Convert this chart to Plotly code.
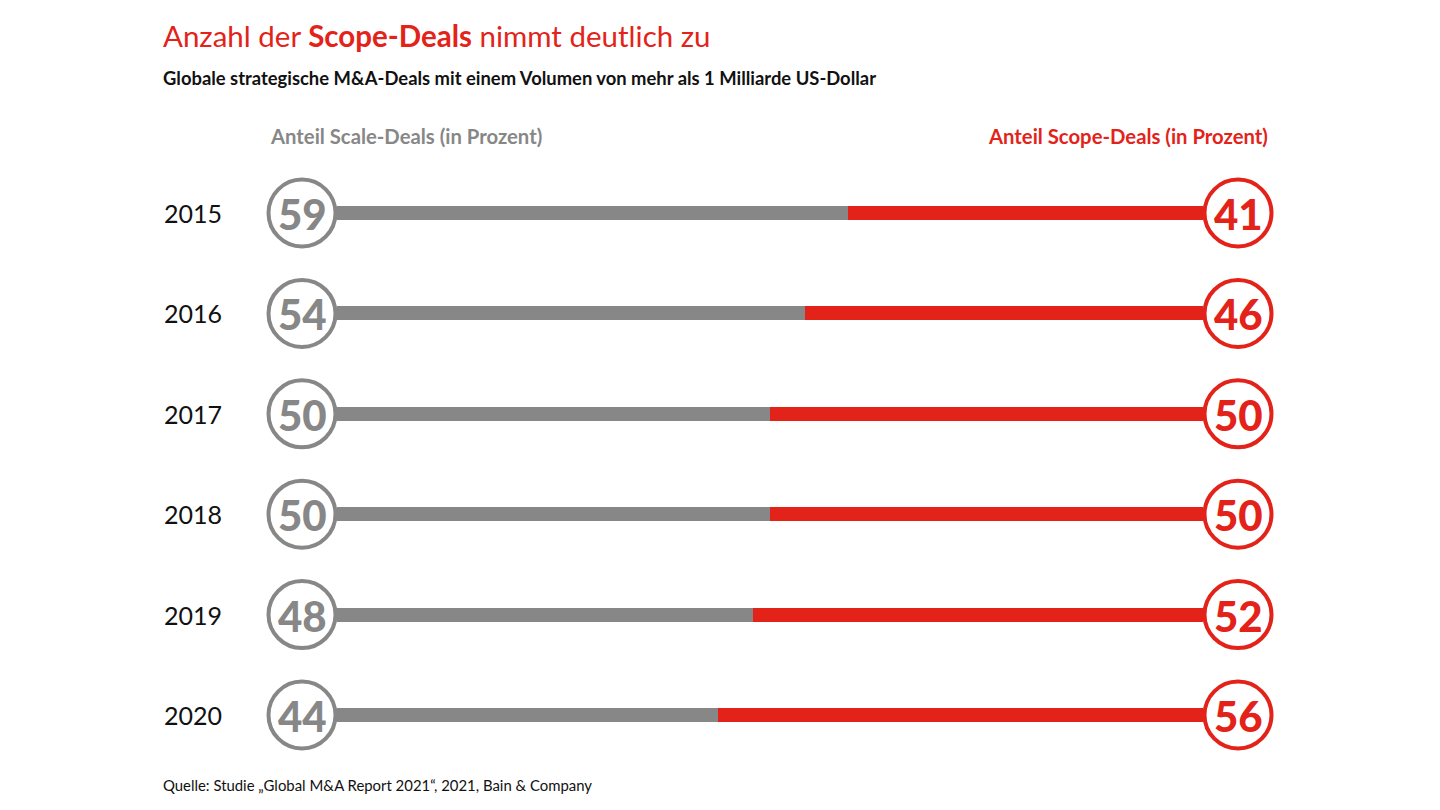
import plotly.graph_objects as go

years = ["2015", "2016", "2017", "2018", "2019", "2020"]
scale_share = [59, 54, 50, 50, 48, 44]
scope_share = [41, 46, 50, 50, 52, 56]

GRAY = "#878787"
RED = "#e3231a"
FONT = "Lato"

OFF = 8                     # default page margin of the html body
W, H = 1440 - 2 * OFF, 810 - 2 * OFF
bar_x0, bar_x1 = 337, 1203  # reference-pixel extent of the 0..100 scale
row_top, row_bot = 213, 715
n = len(years)
step = (row_bot - row_top) / (n - 1)
ppu = (bar_x1 - bar_x0) / 100.0
left_c = (302 - bar_x0) / ppu
right_c = 100 + (1238 - bar_x1) / ppu

idx = list(range(n))

fig = go.Figure()
fig.add_trace(go.Bar(
    y=idx, x=scale_share, base=[0] * n, orientation="h",
    marker=dict(color=GRAY, line=dict(width=0)), width=14 / step,
    hoverinfo="skip", showlegend=False))
fig.add_trace(go.Bar(
    y=idx, x=scope_share, base=scale_share, orientation="h",
    marker=dict(color=RED, line=dict(width=0)), width=14 / step,
    hoverinfo="skip", showlegend=False))

fig.add_trace(go.Scatter(
    x=[left_c] * n, y=idx, mode="markers",
    marker=dict(size=67, color="white", line=dict(color=GRAY, width=4)),
    hoverinfo="skip", showlegend=False))
fig.add_trace(go.Scatter(
    x=[right_c] * n, y=idx, mode="markers",
    marker=dict(size=67, color="white", line=dict(color=RED, width=4)),
    hoverinfo="skip", showlegend=False))


def px(ref):
    return (ref - OFF) / W


def py(ref):
    return 1 - (ref - OFF) / H


ann = []
for i, yr in enumerate(years):
    ann.append(dict(x=px(162), y=i, xref="paper", yref="y", text=yr,
                    showarrow=False, xanchor="left", yanchor="middle",
                    font=dict(family=FONT, size=25, color="#111111")))
    ann.append(dict(x=left_c, y=i, xref="x", yref="y", text=str(scale_share[i]),
                    showarrow=False, xanchor="center", yanchor="middle", yshift=-1,
                    font=dict(family=FONT, size=42, color=GRAY, weight=900)))
    ann.append(dict(x=right_c, y=i, xref="x", yref="y", text=str(scope_share[i]),
                    showarrow=False, xanchor="center", yanchor="middle", yshift=-1,
                    font=dict(family=FONT, size=42, color=RED, weight=900)))

ann += [
    dict(x=px(161), y=py(36), xref="paper", yref="paper",
         text="Anzahl der <b>Scope-Deals</b> nimmt deutlich zu",
         showarrow=False, xanchor="left", yanchor="middle",
         font=dict(family=FONT, size=29.5, color=RED)),
    dict(x=px(161), y=py(78), xref="paper", yref="paper",
         text="<b>Globale strategische M&A-Deals mit einem Volumen von mehr als 1 Milliarde US-Dollar</b>",
         showarrow=False, xanchor="left", yanchor="middle",
         font=dict(family=FONT, size=18.4, color="#111111")),
    dict(x=px(268), y=py(136), xref="paper", yref="paper",
         text="<b>Anteil Scale-Deals (in Prozent)</b>",
         showarrow=False, xanchor="left", yanchor="middle",
         font=dict(family=FONT, size=20.3, color=GRAY)),
    dict(x=px(1270), y=py(136), xref="paper", yref="paper",
         text="<b>Anteil Scope-Deals (in Prozent)</b>",
         showarrow=False, xanchor="right", yanchor="middle",
         font=dict(family=FONT, size=20.3, color=RED)),
    dict(x=px(161), y=py(785), xref="paper", yref="paper",
         text="Quelle: Studie \u201eGlobal M&A Report 2021\u201c, 2021, Bain & Company",
         showarrow=False, xanchor="left", yanchor="middle",
         font=dict(family=FONT, size=14.9, color="#111111")),
]

xr = [(OFF - bar_x0) / ppu, (OFF + W - bar_x0) / ppu]
yr_range = [(OFF + H - row_top) / step, (OFF - row_top) / step]

fig.update_layout(
    width=W, height=H, margin=dict(l=0, r=0, t=0, b=0),
    paper_bgcolor="white", plot_bgcolor="white",
    barmode="overlay", bargap=0,
    xaxis=dict(domain=[0, 1], range=xr, visible=False, fixedrange=True),
    yaxis=dict(domain=[0, 1], range=yr_range, visible=False, fixedrange=True),
    annotations=ann,
)

fig.write_html("out.html")
